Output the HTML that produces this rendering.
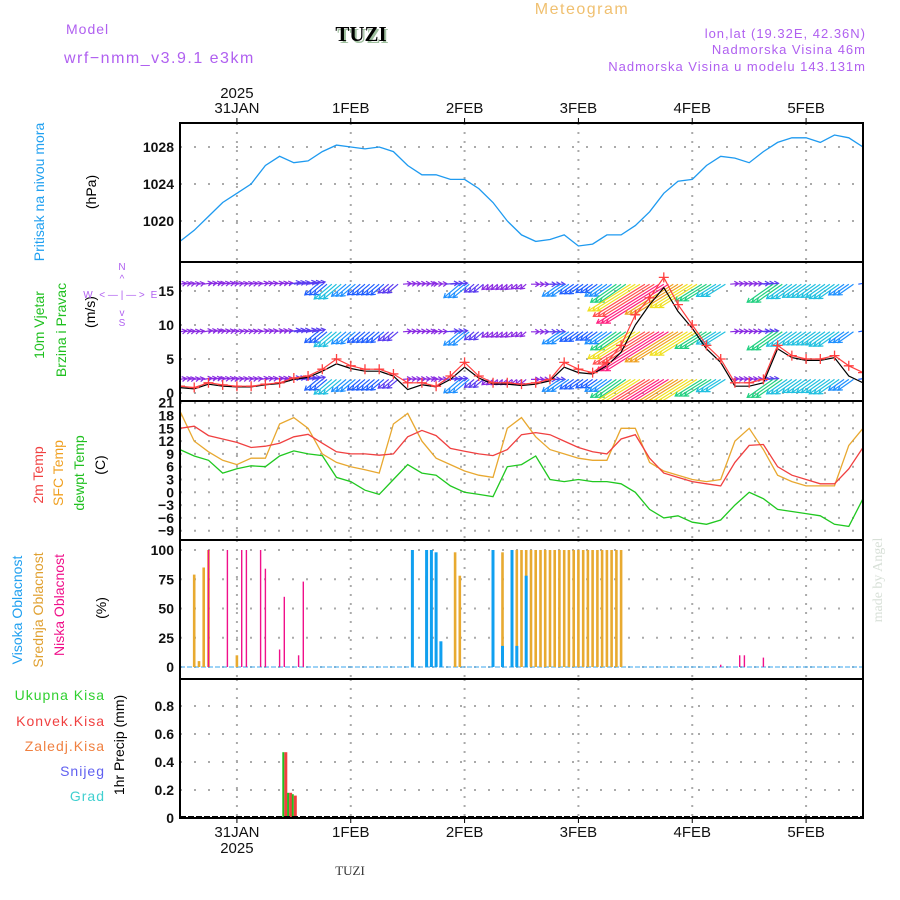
<!DOCTYPE html>
<html><head><meta charset="utf-8"><style>
body{margin:0;background:#fff;}
svg{display:block;font-family:"Liberation Sans",sans-serif;}
</style></head><body>
<svg id="chart" width="900" height="900" viewBox="0 0 900 900" xmlns="http://www.w3.org/2000/svg">
<defs><clipPath id="cw"><rect x="180" y="262" width="683" height="139"/></clipPath></defs>
<text x="66" y="34" font-size="14" fill="#b060f0" letter-spacing="1">Model</text>
<text x="64" y="63" font-size="16" fill="#b060f0" letter-spacing="1.5">wrf−nmm_v3.9.1 e3km</text>
<text x="363" y="43" font-size="21" font-weight="bold" font-family="Liberation Serif,serif" text-anchor="middle" fill="#9fbf9f">TUZI</text>
<text x="361" y="41" font-size="21" font-weight="bold" font-family="Liberation Serif,serif" text-anchor="middle" fill="#000">TUZI</text>
<text x="582" y="14" font-size="16" fill="#f0c070" text-anchor="middle" letter-spacing="1.5">Meteogram</text>
<text x="866" y="38" font-size="13" fill="#b060f0" text-anchor="end" letter-spacing="1">lon,lat (19.32E, 42.36N)</text>
<text x="866" y="54" font-size="13" fill="#b060f0" text-anchor="end" letter-spacing="1">Nadmorska Visina 46m</text>
<text x="866" y="71" font-size="13" fill="#b060f0" text-anchor="end" letter-spacing="1">Nadmorska Visina u modelu 143.131m</text>
<text x="882" y="580" font-size="14" fill="#d8e0d8" text-anchor="middle" font-family="Liberation Serif,serif" transform="rotate(-90 882 580)">made by Angel</text>
<g font-size="14" text-anchor="middle">
<text transform="translate(44,192) rotate(-90)" fill="#20a0f0">Pritisak na nivou mora</text>
<text transform="translate(96,192) rotate(-90)" fill="#000">(hPa)</text>
<text transform="translate(44,325) rotate(-90)" fill="#20c020">10m Vjetar</text>
<text transform="translate(66,330) rotate(-90)" fill="#20c020">Brzina i Pravac</text>
<text transform="translate(95,312) rotate(-90)" fill="#000">(m/s)</text>
<text transform="translate(43,475) rotate(-90)" fill="#f04040">2m Temp</text>
<text transform="translate(63,473) rotate(-90)" fill="#f0a020">SFC Temp</text>
<text transform="translate(84,473) rotate(-90)" fill="#20c020">dewpt Temp</text>
<text transform="translate(105,465) rotate(-90)" fill="#000">(C)</text>
<text transform="translate(22,610) rotate(-90)" fill="#20a0f0">Visoka Oblacnost</text>
<text transform="translate(43,610) rotate(-90)" fill="#e0a030">Srednja Oblacnost</text>
<text transform="translate(64,605) rotate(-90)" fill="#f0108a">Niska Oblacnost</text>
<text transform="translate(106,608) rotate(-90)" fill="#000">(%)</text>
<text transform="translate(124,745) rotate(-90)" fill="#000">1hr Precip (mm)</text>
</g>
<g font-size="14" text-anchor="end">
<text x="105" y="700" fill="#30d030" letter-spacing="1">Ukupna  Kisa</text>
<text x="105" y="726" fill="#f04040" letter-spacing="1">Konvek.Kisa</text>
<text x="105" y="751" fill="#f08040" letter-spacing="1">Zaledj.Kisa</text>
<text x="105" y="776" fill="#6060f0" letter-spacing="1">Snijeg</text>
<text x="105" y="801" fill="#40d0d0" letter-spacing="1">Grad</text>
</g>
<g fill="#b060f0" font-size="10" text-anchor="middle">
<text x="122" y="270">N</text><text x="88" y="298">W</text><text x="154" y="298">E</text><text x="122" y="326">S</text>
<text x="122" y="282">^</text><text x="122" y="316">v</text><text x="122" y="298">&lt; — | — &gt;</text>
</g>
<text x="350" y="875" font-size="13" font-family="Liberation Serif,serif" fill="#333" text-anchor="middle">TUZI</text>
<g id="plots"></g>
</svg>
<script>
const dayLabels=["31JAN","1FEB","2FEB","3FEB","4FEB","5FEB"];
const pressure=[1017.8,1019,1020.5,1022,1023,1024,1026,1027,1026.3,1026.5,1027.5,1028.2,1028,1027.8,1028,1027.5,1026,1025,1025,1024.5,1024.5,1023.5,1022,1020,1018.5,1017.8,1018,1018.5,1017.3,1017.5,1018.5,1018.5,1019.5,1021,1023,1024.3,1024.5,1026,1027,1026.8,1026.3,1027.5,1028.5,1029,1029,1028.5,1029.3,1029,1028];
const pressureTicks=[1020,1024,1028];
const windSpeed=[1,0.8,1.5,1.2,1,1,1.3,1.5,2.2,2.5,3.5,5,4,3.5,3.5,2.8,1.5,1.5,1,2.5,4.5,2.5,1.5,1.5,1.3,1.5,2,4.5,3.5,3,4.5,7,11.5,14,17,13,10,7,5,1.5,1.5,2,7,5.5,5,5,5.5,4,3];
const windMean=[0.8,0.6,1.3,1,0.9,0.9,1.2,1.4,2,2.3,3.2,4.3,3.6,3.2,3.2,2.5,0.5,1.2,0.9,2,3.8,2.2,1.3,1.3,1.1,1.3,1.8,3.8,3,2.8,4,6,10,13,15.5,12,9.5,6.5,4.5,1,1,1.5,6.5,5.2,4.8,4.8,5.2,2.5,1.5];
const windDir=[260,260,260,260,260,260,260,260,260,260,50,50,50,50,50,50,265,265,265,265,50,50,50,50,50,270,270,55,55,55,55,55,58,58,58,58,58,58,58,265,265,265,55,55,55,55,55,55,260];
const windTicks=[0,5,10,15];
const windRows=[16,9,2];
const temp2m=[15,15.5,13.3,12.5,11.7,10.5,10.8,11.5,13,13.6,11.5,9.5,9,9,8.7,9,13,14.5,13.3,10.3,9.6,9,8.6,10,13.5,14,13.5,12,10.5,9.5,9,12.5,13.5,8,4.5,3.5,2.5,2,1.5,7,11,11.2,6,4,3,2,2,5.5,10.5];
const tempSfc=[19,12,9.5,7.5,6.5,8,8,16,17.5,15,9,7,6,5.3,4.5,16,18.5,12,8,6.5,5,4,3.5,15,17.5,13,10,9,8,7.5,7.5,15,15,7,5,4,3,2.5,3,12,15,10,4,2.5,1.5,1.5,1.5,11,15];
const dewpt=[10,8.5,7.5,4.5,5.5,6.2,6,8.5,9.7,9,8.6,3.5,2.5,0.5,-0.5,3,6.5,4.5,4,1.5,0,-0.5,-1,6,6.5,8.5,3,2.5,3,2.5,2.5,2,0,-4,-6,-5.5,-7,-7.5,-6.5,-3,0,-1.5,-4,-4.5,-5,-5.5,-7.5,-8,-1.5];
const tempTicks=[-9,-6,-3,0,3,6,9,12,15,18,21];
const highHours=[49,52,53,54,55,66,68,70,71,73];
const highVals=[100,100,100,98,22,100,18,100,18,78];
const midHours=[3,4,5,6,12,52,58,59,66,68,70,71,72,73,74,75,76,77,78,79,80,81,82,83,84,85,86,87,88,89,90,91,92,93];
const midVals=[79,5,85,100,10,78,98,78,100,98,100,100,100,100,100,100,100,100,100,100,100,100,100,100,100,100,100,100,100,100,100,100,100,100];
const lowHours=[6,10,13,14,17,18,21,22,25,26,114,118,119,123];
const lowVals=[100,100,100,100,100,84,15,60,10,73,2,10,10,8];
const cloudTicks=[0,25,50,75,100];
const precipHours=[16,22,23,24];
const totalPrecip=[0.01,0.47,0.18,0.17];
const convPrecip=[0,0.47,0.18,0.16];
const precipTicks=[0,0.2,0.4,0.6,0.8];

const NS="http://www.w3.org/2000/svg";
const G=document.getElementById('plots');
const X0=180,X1=863,N=pressure.length;
const xi=i=>X0+i*(X1-X0)/(N-1);
const xh=h=>X0+h*(X1-X0)/144;
const xDay=d=>X0+(d+0.5)*(X1-X0)/6;
function el(tag,attrs,parent){const e=document.createElementNS(NS,tag);for(const k in attrs)e.setAttribute(k,attrs[k]);(parent||G).appendChild(e);return e;}
function lin(v0,y0,v1,y1){return v=>y0+(v-v0)*(y1-y0)/(v1-v0);}
const panels=[[123,262],[262,401],[401,540],[540,679],[679,818]];
const yP=lin(1028,147,1020,221), yW=lin(0,393,15,291), yT=lin(0,492.3,21,402.7), yC=lin(0,667,100,550), yR=lin(0,818,0.8,706);

function grid(top,bot,ticks,yf,fmt,nm){
  for(let d=0;d<6;d++){const l=el('line',{x1:xDay(d),x2:xDay(d),y1:top,y2:bot,stroke:'#aaa','stroke-width':2,'stroke-dasharray':'2,7'});
    }
  ticks.forEach(t=>{const y=yf(t);
    const l=el('line',{x1:X0,x2:X1,y1:y,y2:y,stroke:'#aaa','stroke-width':2,'stroke-dasharray':'2,12'});
    
    const tx=el('text',{x:174,y:y+5,'text-anchor':'end','font-size':14,'font-weight':'bold',fill:'#111'});
    tx.textContent=fmt(t);});
}
grid(123,262,pressureTicks,yP,t=>t,'pressure');
grid(262,401,windTicks,yW,t=>t,'wind');
grid(401,540,tempTicks,yT,t=>t<0?'−'+(-t):t,'temp');
grid(540,679,cloudTicks,yC,t=>t,'cloud');
grid(679,818,precipTicks,yR,t=>t===0?'0':t.toFixed(1),'precip');

function line(arr,yf,color,nm,w,clip){const d=arr.map((v,i)=>(i?'L':'M')+xi(i).toFixed(1)+','+yf(v).toFixed(1)).join('');
  const p=el('path',{d:d,fill:'none',stroke:color,'stroke-width':w||1.3});
  if(clip)p.setAttribute('clip-path','url(#cw)');
  return p;}
line(pressure,yP,'#1e9af0','pressure-line');

function wcol(s){return s<2?'#8a2be2':s<3?'#5a3cf0':s<4?'#2060ff':s<5?'#1e90ff':s<6?'#20c0e0':s<8?'#20d080':s<10?'#90e020':s<12?'#f0e020':s<14?'#f0a020':s<16?'#ff5050':'#ff2080';}
const wg=el('g',{'clip-path':'url(#cw)'});
windRows.forEach(r=>{windDir.forEach((dir,i)=>{const s=windSpeed[i];const L=2+s*4.2;const a=dir*Math.PI/180;
  const ux=-Math.sin(a),uy=Math.cos(a);
  [-4.7,0,4.7].forEach(o=>{const x=xi(i)+o,y=yW(r);if(x<X0||x>X1)return;
    const ex=x+ux*L,ey=y+uy*L;const c=wcol(s);
    const ar=el('path',{d:`M${x.toFixed(1)},${y.toFixed(1)}L${ex.toFixed(1)},${ey.toFixed(1)}M${(ex-ux*4-uy*2.5).toFixed(1)},${(ey-uy*4+ux*2.5).toFixed(1)}L${ex.toFixed(1)},${ey.toFixed(1)}L${(ex-ux*4+uy*2.5).toFixed(1)},${(ey-uy*4-ux*2.5).toFixed(1)}`,stroke:c,'stroke-width':1.2,fill:'none'},wg);
    });});});
line(windMean,yW,'#000','wind-mean-line',1.2,true);
line(windSpeed,yW,'#ff4040','wind-speed-line',1.2,true);
windSpeed.forEach((v,i)=>{const x=xi(i),y=yW(v);
  const m=el('path',{d:`M${x-5},${y}H${x+5}M${x},${y-5}V${y+5}`,stroke:'#ff4040','stroke-width':1.3,'clip-path':'url(#cw)'});
  });

line(tempSfc,yT,'#e8a830','sfc-temp-line');
line(temp2m,yT,'#f04040','temp-2m-line');
line(dewpt,yT,'#20c820','dewpt-line');

const cb=el('line',{x1:X0,x2:X1,y1:yC(0),y2:yC(0),stroke:'#60b8f0','stroke-width':1.2,'stroke-dasharray':'5,2'});

function bars(hours,vals,color,nm,w){hours.forEach((h,i)=>{const x=xh(h);const y=yC(vals[i]);
  const r=el('rect',{x:(x-w/2).toFixed(1),y:y.toFixed(1),width:w,height:(yC(0)-y).toFixed(1),fill:color});
  });}
bars(midHours,midVals,'#e8aa30','mid-cloud-bar',2.6);
bars(highHours,highVals,'#10a0f0','high-cloud-bar',3);
bars(lowHours,lowVals,'#f0108a','low-cloud-bar',1.4);

precipHours.forEach((h,i)=>{const x=xh(h);
  const g=el('rect',{x:(x-2).toFixed(1),y:yR(totalPrecip[i]).toFixed(1),width:2,height:(yR(0)-yR(totalPrecip[i])).toFixed(1),fill:'#20c020'});
  
  if(convPrecip[i]>0){const r=el('rect',{x:x.toFixed(1),y:yR(convPrecip[i]).toFixed(1),width:3,height:(yR(0)-yR(convPrecip[i])).toFixed(1),fill:'#f04040'});
  }});
const pb=el('line',{x1:X0,x2:X1,y1:817,y2:817,stroke:'#000','stroke-width':2,'stroke-dasharray':'6,2'});


panels.forEach(p=>{const r=el('rect',{x:X0,y:p[0],width:X1-X0,height:p[1]-p[0],fill:'none',stroke:'#000','stroke-width':2});
  });
dayLabels.forEach((d,i)=>{const x=xDay(i);
  const t=el('text',{x:x,y:113,'text-anchor':'middle','font-size':15,fill:'#111'});t.textContent=d;
  
  const b=el('text',{x:x,y:837,'text-anchor':'middle','font-size':15,fill:'#111'});b.textContent=d;
  
  const tk=el('path',{d:`M${x},118V123M${x},818V823`,stroke:'#000','stroke-width':1});
  });
const y1=el('text',{x:xDay(0),y:98,'text-anchor':'middle','font-size':15,fill:'#111'});y1.textContent='2025';

const y2=el('text',{x:xDay(0),y:853,'text-anchor':'middle','font-size':15,fill:'#111'});y2.textContent='2025';

</script>
</body></html>
